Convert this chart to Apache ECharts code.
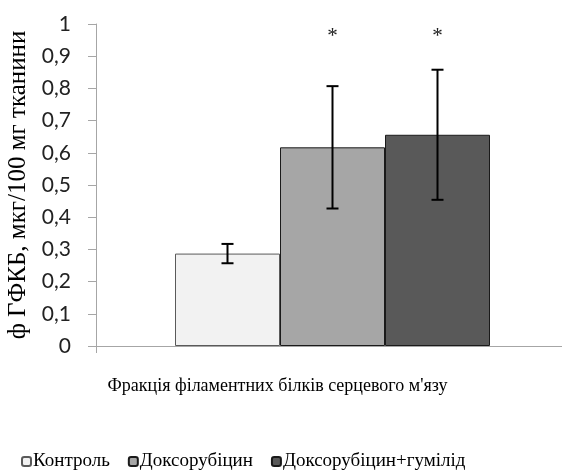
<!DOCTYPE html>
<html>
<head>
<meta charset="utf-8">
<script src="https://cdn.jsdelivr.net/npm/echarts@6/dist/echarts.min.js"></script>
<style>html,body{margin:0;padding:0;background:#fff}#c{width:562px;height:474px}</style>
</head>
<body>
<div id="c"></div>
<script>
const categories = ["Фракція філаментних білків серцевого м'язу"];
const seriesNames = ["Контроль", "Доксорубіцин", "Доксорубіцин+гумілід"];
const means = [0.287, 0.617, 0.656];
const errors = [0.030, 0.190, 0.202];
const sigMarks = ["", "*", "*"];
const sigLevel = 0.96;
const yTicks = [0, 0.1, 0.2, 0.3, 0.4, 0.5, 0.6, 0.7, 0.8, 0.9, 1];
const yName = "ф ГФКБ, мкг/100 мг тканини";

const fills = ["#f2f2f2", "#a6a6a6", "#595959"];
const borders = ["#5a5a5a", "#1a1a1a", "#1a1a1a"];
const legendPadRight = [6, 0, 0];
const BAR_W = 105;

const chart = echarts.init(document.getElementById('c'), null, {renderer: 'canvas'});

const barSeries = seriesNames.map((n, i) => ({
  name: n,
  type: 'bar',
  data: [means[i]],
  barWidth: BAR_W,
  barGap: '0%',
  itemStyle: {color: fills[i], borderColor: borders[i], borderWidth: 1},
  emphasis: {disabled: true},
  z: 2
}));

const errSeries = {
  type: 'custom',
  data: means.map((m, i) => [0, m, errors[i], i]),
  z: 5,
  silent: true,
  renderItem: function (params, api) {
    const m = api.value(1), e = api.value(2), idx = api.value(3);
    const c = api.coord([0, m]);
    const x = c[0] + (idx - 1) * BAR_W;
    const yt = api.coord([0, m + e])[1];
    const yb = api.coord([0, m - e])[1];
    const cap = 6;
    const st = {stroke: '#000', lineWidth: 2};
    const children = [
      {type: 'line', shape: {x1: x, y1: yt, x2: x, y2: yb}, style: st},
      {type: 'line', shape: {x1: x - cap, y1: yt, x2: x + cap, y2: yt}, style: st},
      {type: 'line', shape: {x1: x - cap, y1: yb, x2: x + cap, y2: yb}, style: st}
    ];
    if (sigMarks[idx]) {
      const ys = api.coord([0, sigLevel])[1];
      children.push({type: 'text', style: {x: x, y: ys, text: sigMarks[idx], fill: '#222',
        font: '21px "Liberation Serif"', align: 'center', verticalAlign: 'middle'}});
    }
    return {type: 'group', children: children};
  }
};

chart.setOption({
  animation: false,
  grid: {left: 96, top: 24, width: 473, height: 322, containLabel: false, outerBoundsMode: 'none'},
  legend: {
    data: seriesNames.map((n, i) => ({name: n, textStyle: {padding: [0, legendPadRight[i], 0, -3]}})),
    left: 16, top: 447, width: 800,
    itemWidth: 9, itemHeight: 9, itemGap: 18,
    selectedMode: false,
    textStyle: {fontFamily: 'Liberation Serif', fontSize: 19, color: '#000'}
  },
  xAxis: {
    type: 'category',
    data: categories,
    axisLine: {lineStyle: {color: '#a6a6a6', width: 1}},
    axisTick: {show: true, length: 7, lineStyle: {color: '#a6a6a6'}},
    axisLabel: {fontFamily: 'Liberation Serif', fontSize: 18, color: '#000', margin: 31, padding: [0, 110, 0, 0]}
  },
  yAxis: {
    type: 'value',
    min: 0, max: 1, interval: 0.1,
    name: yName,
    nameLocation: 'middle',
    nameGap: 60,
    nameRotate: 90,
    nameTextStyle: {fontFamily: 'Liberation Serif', fontSize: 25, color: '#000'},
    axisLine: {show: true, lineStyle: {color: '#a6a6a6', width: 1}},
    axisTick: {show: true, length: 8, lineStyle: {color: '#a6a6a6'}},
    splitLine: {show: false},
    axisLabel: {
      margin: 25, fontFamily: 'Lato', fontSize: 21, color: '#222',
      customValues: yTicks,
      formatter: v => String(Math.round(v * 10) / 10).replace('.', ',')
    }
  },
  series: [...barSeries, errSeries]
});
</script>
</body>
</html>
